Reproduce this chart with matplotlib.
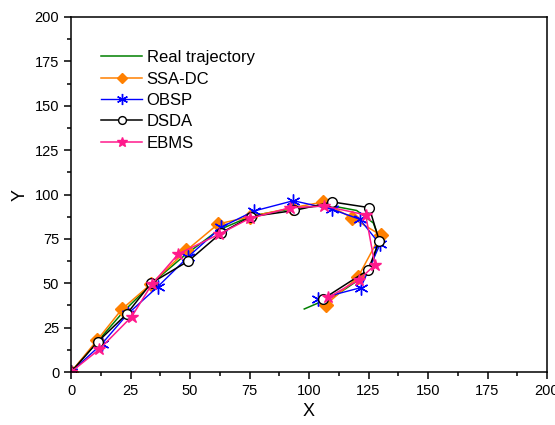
import matplotlib.pyplot as plt
from matplotlib.ticker import MultipleLocator

plt.rcParams['font.family'] = ['Liberation Sans', 'DejaVu Sans']

# real trajectory
real_x = [0, 11, 22, 34, 48, 62, 76, 93, 108, 120, 127, 129.5, 127, 121, 111, 98]
real_y = [0, 17, 34, 50, 66, 80, 88, 92, 94, 91, 84, 75, 63, 52, 43, 35.5]

ssa_x = [0, 11, 21.3, 33.6, 48.5, 61.8, 75.2, 92.7, 105.7, 117.9, 130.1, 120.5, 107.1]
ssa_y = [0, 18, 35.3, 49.6, 68.5, 83.4, 87.5, 92.5, 95.7, 87, 77.2, 53.3, 38]

obsp_x = [0, 12.9, 23.8, 36.4, 49.3, 63, 76.9, 93.4, 109.8, 121.4, 129.8, 121.7, 103.6]
obsp_y = [0, 15.8, 32.7, 48, 65, 81.5, 90.7, 96.5, 91.6, 86, 71.9, 47.5, 41.1]

dsda_x = [0, 11.2, 23.4, 33.6, 49.3, 63.2, 75.5, 93.8, 109.8, 125.3, 129.5, 124.9, 105.7]
dsda_y = [0, 17, 32.7, 50, 62.5, 78.5, 87.5, 91, 95.8, 92.6, 74, 57.5, 41]

ebms_x = [0, 11.9, 25.5, 34, 45.1, 62.3, 75, 92, 106.5, 123.8, 127.7, 121, 108.1]
ebms_y = [0, 12.8, 31.2, 49.5, 66.5, 77.7, 86.5, 92.5, 93.5, 88.5, 60.3, 52, 42]

fig = plt.figure(figsize=(5.55, 4.25), dpi=100)
ax = fig.add_axes([0.128, 0.1247, 0.8576, 0.8353])

ax.plot(real_x, real_y, color='#008000', lw=1.1, label='Real trajectory')
ax.plot(ssa_x, ssa_y, color='#FF8000', lw=1.1, marker='D', ms=7,
        markeredgecolor='#FF8000', label='SSA-DC')
ax.plot(obsp_x, obsp_y, color='#0000FF', lw=1.0, marker=(6, 2, 0), ms=10,
        mew=1.0, label='OBSP')
ax.plot(dsda_x, dsda_y, color='black', lw=1.1, marker='o', ms=7,
        mfc='white', mec='black', mew=1.0, label='DSDA')
ax.plot(ebms_x, ebms_y, color='#FF1A8C', lw=1.1, marker='*', ms=9,
        label='EBMS')

ax.set_xlim(0, 200)
ax.set_ylim(0, 200)
ax.xaxis.set_major_locator(MultipleLocator(25))
ax.yaxis.set_major_locator(MultipleLocator(25))
ax.xaxis.set_minor_locator(MultipleLocator(12.5))
ax.yaxis.set_minor_locator(MultipleLocator(12.5))
ax.tick_params(which='both', direction='out', top=False, right=False,
               labelsize=10.5, width=1.1)
ax.tick_params(which='major', length=5)
ax.tick_params(which='minor', length=3)
for s in ax.spines.values():
    s.set_linewidth(1.1)

ax.set_xlabel('X', fontsize=13, labelpad=4)
ax.set_ylabel('Y', fontsize=13, labelpad=4)

ax.legend(loc='upper left', bbox_to_anchor=(0.045, 0.93), frameon=False,
          fontsize=12, handlelength=2.5, handletextpad=0.25,
          labelspacing=0.38, borderpad=0, markerscale=0.8)

fig.savefig('out.png', dpi=100)
